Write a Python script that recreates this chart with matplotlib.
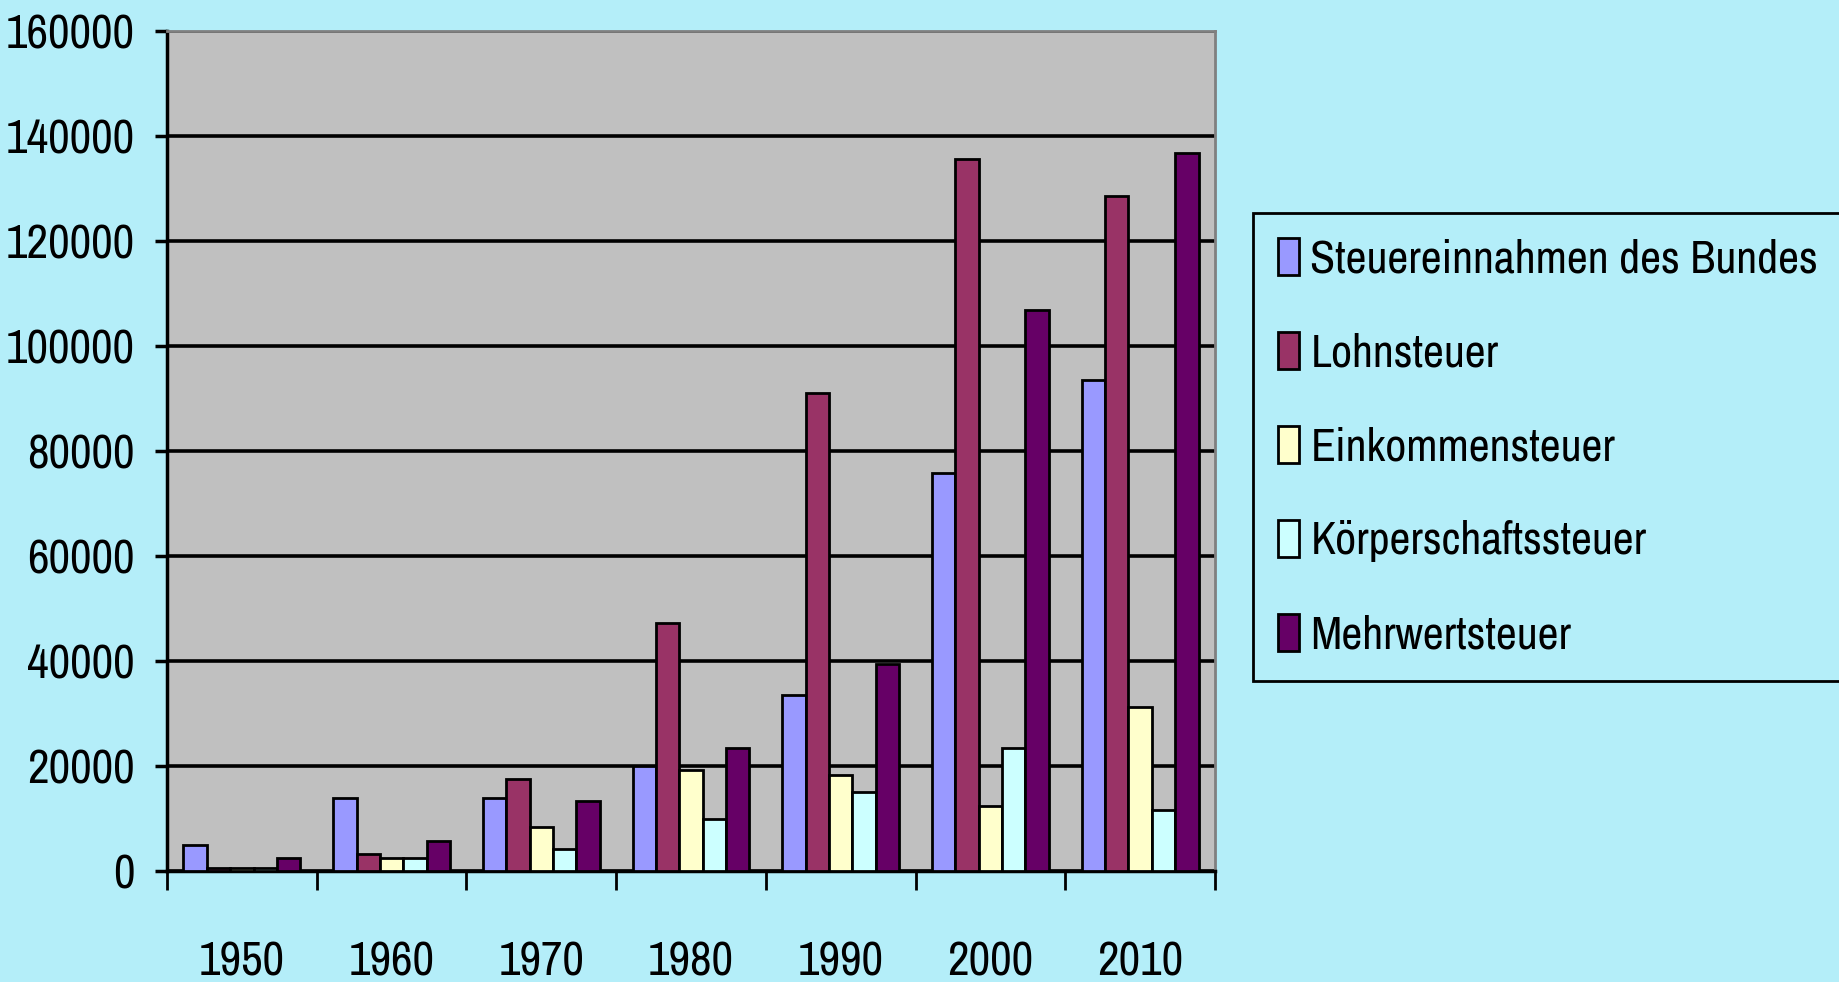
import matplotlib
matplotlib.use("Agg")
import matplotlib.pyplot as plt
from matplotlib import font_manager
import numpy as np

YEARS = ["1950", "1960", "1970", "1980", "1990", "2000", "2010"]
SERIES = ["Steuereinnahmen des Bundes", "Lohnsteuer", "Einkommensteuer",
          "Körperschaftssteuer", "Mehrwertsteuer"]
bund = [5000, 14000, 14000, 20000, 33500, 75800, 93500]
lohn = [600, 3200, 17500, 47300, 91000, 135700, 128500]
eink = [600, 2500, 8300, 19200, 18300, 12300, 31200]
koerp = [600, 2500, 4100, 10000, 15000, 23500, 11700]
mwst = [2400, 5800, 13300, 23500, 39500, 106900, 136700]
COLORS = ["#9999FF", "#993366", "#FFFFCC", "#CCFFFF", "#660066"]

BG = "#B4EEF9"

# condensed Arial-like face if there is one
names = {f.name for f in font_manager.fontManager.ttflist}
family = next((n for n in ["Liberation Sans Narrow", "Archivo Narrow", "Barlow Semi Condensed"]
               if n in names), "Liberation Sans")
plt.rcParams["font.family"] = [family, "DejaVu Sans"]
FS = 34

fig = plt.figure(figsize=(18.39, 9.82), dpi=100, facecolor=BG)
ax = fig.add_axes([167 / 1839, 1 - 871 / 982, (1215 - 167) / 1839, (871 - 31) / 982])
ax.set_facecolor("#C0C0C0")

x = np.arange(len(YEARS))
w = 0.78 / 5
for i, (vals, name) in enumerate(zip([bund, lohn, eink, koerp, mwst], SERIES)):
    ax.bar(x + (i - 2) * w, vals, width=w, color=COLORS[i], edgecolor="black",
           linewidth=2, label=name, zorder=3)

ax.set_xlim(-0.5, len(YEARS) - 0.5)
ax.set_ylim(0, 160000)
ax.set_yticks(np.arange(0, 160001, 20000))
ax.set_yticklabels([str(v) for v in range(0, 160001, 20000)], fontsize=FS)
ax.yaxis.grid(True, color="black", linewidth=2.6, zorder=1)
ax.set_axisbelow(True)

ax.set_xticks(np.arange(-0.5, len(YEARS)), minor=False)
ax.set_xticklabels([])
ax.set_xticks(x, minor=True)
ax.set_xticklabels(YEARS, minor=True, fontsize=FS)
ax.tick_params(axis="x", which="major", direction="out", length=14, width=2)
ax.tick_params(axis="x", which="minor", length=0, pad=50)
ax.tick_params(axis="y", direction="out", length=9, width=2.5, pad=14)

for side in ["left", "bottom"]:
    ax.spines[side].set_linewidth(2.5)
    ax.spines[side].set_color("black")
for side in ["top", "right"]:
    ax.spines[side].set_linewidth(2)
    ax.spines[side].set_color("#808080")

leg = ax.legend(loc="upper left", bbox_to_anchor=(1253 / 1839, 1 - 213 / 982),
                bbox_transform=fig.transFigure, borderaxespad=0, fontsize=33,
                frameon=True, fancybox=False, facecolor=BG, edgecolor="black",
                handlelength=0.45, handleheight=0.85, handletextpad=0.25,
                labelspacing=1.13, borderpad=0.55)
leg.get_frame().set_linewidth(2)
leg.get_frame().set_alpha(None)

fig.savefig("out.png", dpi=100, facecolor=BG)
